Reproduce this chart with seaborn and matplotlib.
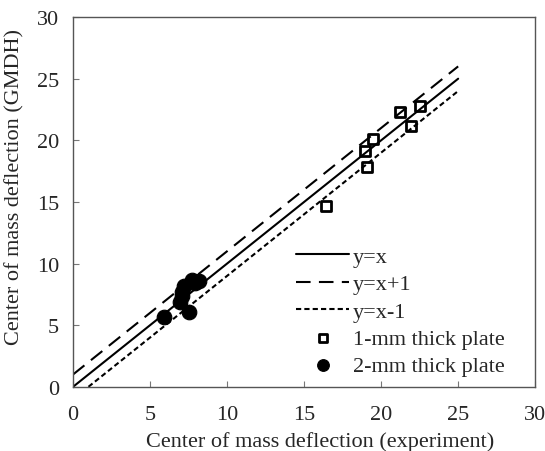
import numpy as np
import pandas as pd
import matplotlib
matplotlib.use("Agg")
import matplotlib.pyplot as plt
import seaborn as sns

# reference lines
line_x = [0, 25]
line_x_minus = [1, 25]

# 1-mm thick plate (experiment, GMDH)
plate1_exp = [16.4, 18.95, 19.1, 19.5, 21.2, 21.95, 22.5]
plate1_gmdh = [14.7, 19.15, 17.8, 20.1, 22.3, 21.2, 22.8]

# 2-mm thick plate (experiment, GMDH)
plate2_exp = [5.9, 6.95, 7.05, 7.1, 7.2, 7.5, 7.7, 7.9, 8.2]
plate2_gmdh = [5.7, 6.9, 7.4, 7.7, 8.2, 6.1, 8.7, 8.4, 8.6]

sns.set_style("ticks")
plt.rcParams['font.family'] = ['Liberation Serif', 'DejaVu Serif']

fig = plt.figure(figsize=(5.45, 4.52), dpi=100)
ax = fig.add_axes([0.134, 0.142, 0.848, 0.818])

sns.lineplot(x=line_x, y=np.array(line_x), ax=ax, color="black", lw=1.5, label="y=x")
sns.lineplot(x=line_x, y=np.array(line_x) + 1, ax=ax, color="black", lw=1.5,
             label="y=x+1").lines[-1].set_dashes([7, 4])
sns.lineplot(x=line_x_minus, y=np.array(line_x_minus) - 1, ax=ax, color="black", lw=1.5,
             label="y=x-1").lines[-1].set_dashes([2.5, 1.5])

sns.scatterplot(x=plate1_exp, y=plate1_gmdh, ax=ax, marker="s", s=55,
                facecolor="white", edgecolor="black", linewidth=2, label="1-mm thick plate")
sns.scatterplot(x=plate2_exp, y=plate2_gmdh, ax=ax, marker="o", s=110,
                color="black", edgecolor="black", label="2-mm thick plate")

ax.set_xlim(0, 30)
ax.set_ylim(0, 30)
ax.set_xticks(range(0, 31, 5))
ax.set_yticks(range(0, 31, 5))
ax.tick_params(direction="in", length=4, labelsize=16, color="#777777", pad=10)
ax.tick_params(axis="x", pad=13)
for s in ax.spines.values():
    s.set_color("#555555")
    s.set_linewidth(1)

ax.set_xlabel("Center of mass deflection (experiment)", fontsize=16)
ax.set_ylabel("Center of mass deflection (GMDH)", fontsize=16)
ax.xaxis.set_label_coords(0.535, -0.12)
ax.yaxis.set_label_coords(-0.104, 0.543)

leg = ax.legend(loc="lower right", bbox_to_anchor=(0.977, -0.025), frameon=False, fontsize=16,
                handlelength=2.4, labelspacing=0.3, handletextpad=0.15, markerscale=0.8)

fig.savefig("out.png", dpi=100)
